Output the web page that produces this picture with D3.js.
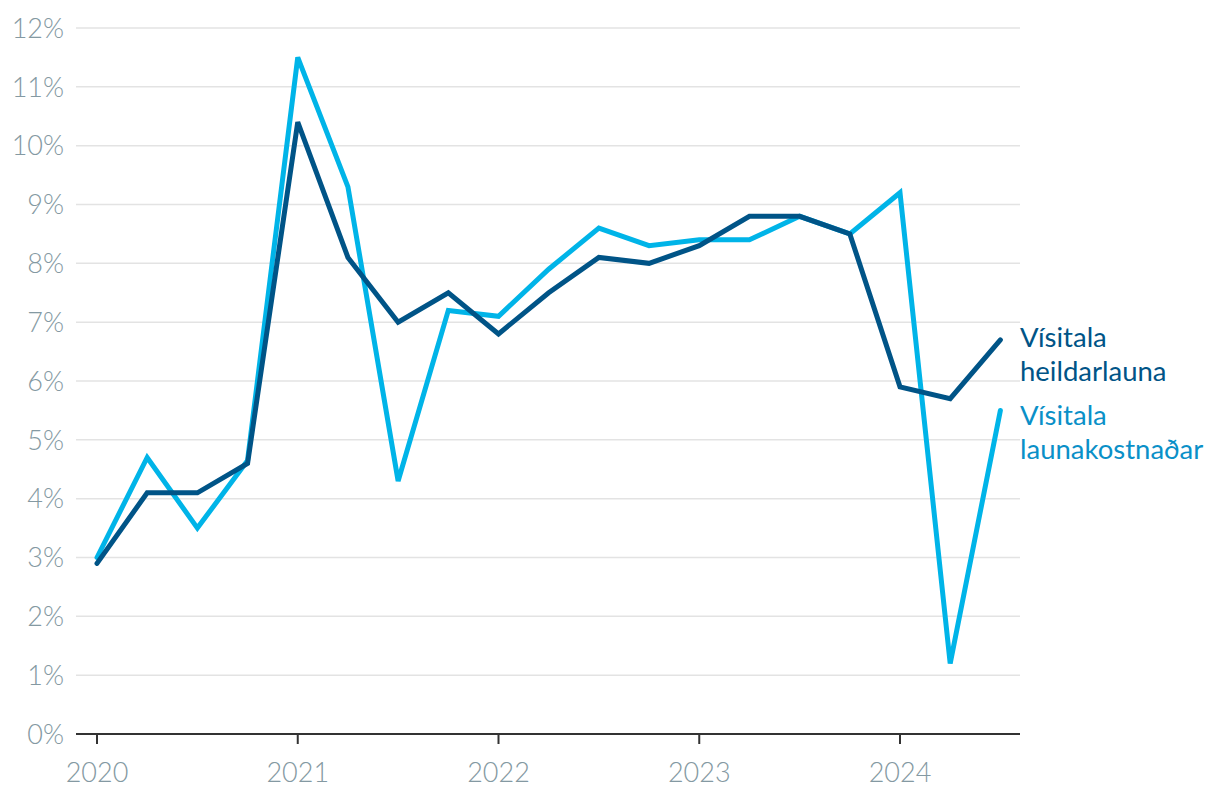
<!DOCTYPE html>
<html><head><meta charset="utf-8">
<script src="https://cdn.jsdelivr.net/npm/d3@7"></script>
<style>body{margin:0;background:#fff;}svg{display:block;font-family:Lato,sans-serif;}</style>
</head><body><svg id="c" width="1220" height="800"></svg>
<script>
const quarters = ["2020Q1","2020Q2","2020Q3","2020Q4","2021Q1","2021Q2","2021Q3","2021Q4","2022Q1","2022Q2","2022Q3","2022Q4","2023Q1","2023Q2","2023Q3","2023Q4","2024Q1","2024Q2","2024Q3"];
const heildarlauna = [2.9,4.1,4.1,4.6,10.4,8.1,7.0,7.5,6.8,7.5,8.1,8.0,8.3,8.8,8.8,8.5,5.9,5.7,6.7];
const launakostnadar = [3.0,4.7,3.5,4.65,11.5,9.3,4.3,7.2,7.1,7.9,8.6,8.3,8.4,8.4,8.8,8.5,9.2,1.2,5.5];
const yTicks = [0,1,2,3,4,5,6,7,8,9,10,11,12];
const xTickLabels = ["2020","2021","2022","2023","2024"];
const seriesNames = [["Vísitala","heildarlauna"],["Vísitala","launakostnaðar"]];

const svg = d3.select("#c");
const x = d3.scaleLinear().domain([0,16]).range([97,900]);
const y = d3.scaleLinear().domain([0,12]).range([734,28]);
const gx0 = 76, gx1 = 1020;

svg.append("g").selectAll("line").data(yTicks.filter(d=>d>0)).join("line")
  .attr("x1",gx0).attr("x2",gx1).attr("y1",d=>y(d)).attr("y2",d=>y(d))
  .attr("stroke","#e3e3e3").attr("stroke-width",1.5);

svg.append("g").selectAll("text").data(yTicks).join("text")
  .attr("x",64).attr("y",d=>y(d)).attr("dy","0.36em").attr("text-anchor","end")
  .attr("font-size",27).attr("font-weight",300).attr("fill","#8499a2").text(d=>d+"%");

svg.append("line").attr("x1",gx0).attr("x2",gx1).attr("y1",y(0)).attr("y2",y(0))
  .attr("stroke","#333").attr("stroke-width",2);
const xg = svg.append("g").selectAll("g").data(xTickLabels).join("g")
  .attr("transform",(d,i)=>`translate(${x(i*4)},${y(0)})`);
xg.append("line").attr("y1",0).attr("y2",10).attr("stroke","#333").attr("stroke-width",2);
xg.append("text").attr("y",48).attr("text-anchor","middle").attr("font-size",27)
  .attr("font-weight",300).attr("fill","#8499a2").text(d=>d);

const line = d3.line().x((d,i)=>x(i)).y(d=>y(d));
svg.append("path").datum(launakostnadar).attr("d",line).attr("fill","none")
  .attr("stroke","#00b4e8").attr("stroke-width",5).attr("stroke-linejoin","miter").attr("stroke-linecap","round");
svg.append("path").datum(heildarlauna).attr("d",line).attr("fill","none")
  .attr("stroke","#005487").attr("stroke-width",5).attr("stroke-linejoin","miter").attr("stroke-linecap","round");

const lbl = [{t:seriesNames[0],yy:347,c:"#005487"},{t:seriesNames[1],yy:425,c:"#0a90c8"}];
lbl.forEach(l=>{
  const t = svg.append("text").attr("x",1020).attr("y",l.yy).attr("font-size",27.5).attr("fill",l.c);
  l.t.forEach((s,i)=>t.append("tspan").attr("x",1020).attr("dy",i?34:0).text(s));
});
</script></body></html>
